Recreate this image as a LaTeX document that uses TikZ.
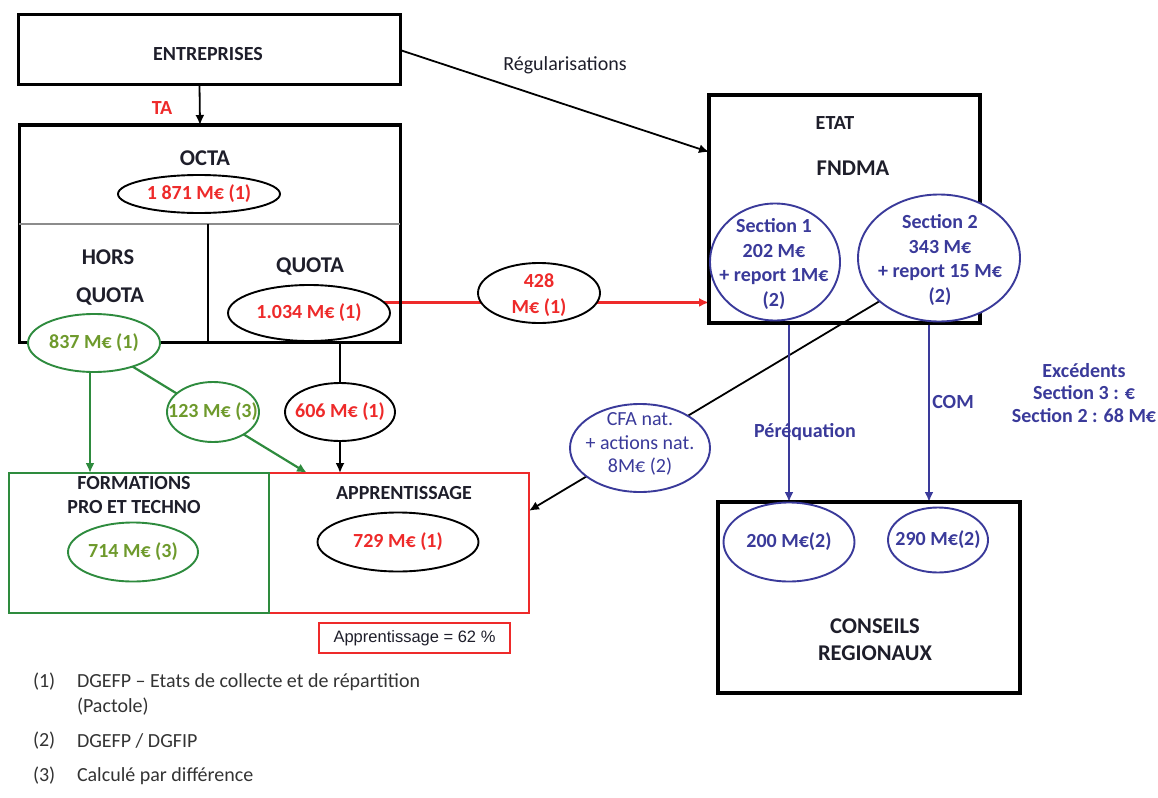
\documentclass[tikz,border=0pt]{standalone}
\usepackage{fontspec}
\setmainfont{Carlito}
\newfontfamily\arialf{Liberation Sans}
\usetikzlibrary{shapes.geometric,arrows.meta,backgrounds,calc}
\definecolor{myred}{HTML}{EE2A2A}
\definecolor{mygreen}{HTML}{2E8B3E}
\definecolor{gtext}{HTML}{6E9A2C}
\definecolor{myblue}{HTML}{3A3A9A}
\definecolor{ink}{HTML}{1E1E2A}
\definecolor{fn}{HTML}{333333}
\newcommand{\zb}[1]{\makebox[0pt]{#1}}
\begin{document}
\begin{tikzpicture}[x=1pt,y=-1pt,
  every node/.style={inner sep=0pt, outer sep=0pt},
  txt/.style={font=\fontsize{20}{24.4}\selectfont\bfseries, text=ink, align=center},
  big/.style={font=\fontsize{22.5}{27}\selectfont\bfseries, text=ink, align=center},
  reg/.style={font=\fontsize{20}{24.4}\selectfont, text=ink, align=center},
  box/.style={draw=black, line width=3pt, rectangle},
  ell/.style={ellipse, draw=black, line width=1.9pt, fill=white},
  arr/.style={-{Latex[length=10pt,width=9pt]}, line width=1.8pt},
]
\useasboundingbox (0,0) rectangle (1158,797);

% ENTREPRISES
\node[box, minimum width=382pt, minimum height=70pt] (ent) at (209,50) {};
\node[txt] (enttxt) at (208,54) {ENTREPRISES};
\node[txt, text=myred] (ta) at (162,108) {TA};

% OCTA
\node[box, minimum width=381pt, minimum height=217pt] (octa) at (209.5,233.5) {};
\draw[line width=2.8pt, black!45] (19,224) -- (400,224);
\draw[line width=2.8pt] (208,224) -- (208,342);
\node[big] (octatxt) at (205,158) {OCTA};
\node[ell, minimum width=162pt, minimum height=38pt, txt, text=myred] (e1871) at (199,194) {\zb{1 871 M€ (1)}};
\node[big] (hors) at (108,257) {HORS};
\node[big] (horsq) at (110,297) {QUOTA};
\node[big] (quota) at (310,267) {QUOTA};
\node[ell, minimum width=162pt, minimum height=56pt, txt, text=myred] (e1034) at (309,313) {\zb{1.034 M€ (1)}};
\node[ell, draw=mygreen, minimum width=132pt, minimum height=58pt, txt, text=gtext] (e837) at (94,343) {\zb{837 M€ (1)}};

% middle ellipses
\node[ell, draw=mygreen, minimum width=92pt, minimum height=60pt, txt, text=gtext] (e123) at (213,412) {\zb{123 M€ (3)}};
\node[ell, minimum width=110pt, minimum height=58pt, txt, text=myred] (e606) at (340,412) {\zb{606 M€ (1)}};

% bottom boxes
\node[box, draw=myred, line width=2.6pt, minimum width=260pt, minimum height=140pt] (appr) at (399,543) {};
\node[box, draw=mygreen, line width=2.6pt, minimum width=260pt, minimum height=140pt] (form) at (139,543) {};
\node[txt] (formtxt) at (134,483) {FORMATIONS};
\node[txt] (protxt) at (134,507) {PRO ET TECHNO};
\node[ell, draw=mygreen, minimum width=130pt, minimum height=59pt, txt, text=gtext] (e714) at (133,552) {\zb{714 M€ (3)}};
\node[txt] (apprtxt) at (404,493) {APPRENTISSAGE};
\node[ell, minimum width=161pt, minimum height=59pt, txt, text=myred] (e729) at (398,542) {\zb{729 M€ (1)}};
\node[draw=myred, line width=2.6pt, minimum width=191pt, minimum height=30pt, font=\arialf\fontsize{16.5}{19}\selectfont, text=ink] (pct) at (414.5,638) {Apprentissage = 62 \%};

% 428
\node[ell, minimum width=122pt, minimum height=60pt] (e428) at (539,293) {};
\node[txt, text=myred] (e428t) at (539,295) {428\\[1.5pt]M€ (1)};

% ETAT
\node[box, line width=3.2pt, minimum width=271pt, minimum height=228pt] (etat) at (844.5,209) {};
\node[txt] (etattxt) at (835,123) {ETAT};
\node[big] (fndma) at (853,168) {FNDMA};
\node[ell, draw=myblue, minimum width=130pt, minimum height=117pt] (sec1) at (775,262) {};
\node[txt, text=myblue] (sec1t) at (774,264) {Section 1\\202 M€\\+ report 1M€\\(2)};
\node[ell, draw=myblue, minimum width=162pt, minimum height=127pt] (sec2) at (939,258) {};
\node[txt, text=myblue] (sec2t) at (940,260) {Section 2\\343 M€\\+ report 15 M€\\(2)};

% CFA
\node[ell, draw=myblue, minimum width=140pt, minimum height=88pt] (cfa) at (640,448) {};
\node[reg, text=myblue, font=\fontsize{20}{23.5}\selectfont] (cfat) at (640,444) {CFA nat.\\+ actions nat.\\8M€ (2)};

% CONSEILS
\node[box, line width=3.2pt, minimum width=302pt, minimum height=191pt] (conseils) at (869,597.5) {};
\node[big] (constxt) at (875,640) {CONSEILS\\REGIONAUX};
\node[ell, draw=myblue, minimum width=131pt, minimum height=79pt, txt, text=myblue] (e200) at (789,542) {\zb{200 M€(2)}};
\node[ell, draw=myblue, minimum width=100pt, minimum height=65pt, txt, text=myblue] (e290) at (938,540) {\zb{290 M€(2)}};

% labels
\node[reg] (regul) at (565,65) {Régularisations};
\node[txt, text=myblue] (pereq) at (805,432) {Péréquation};
\node[txt, text=myblue] (com) at (953,402) {COM};
\node[txt, text=myblue, font=\fontsize{20}{22.5}\selectfont\bfseries] (exc) at (1084,393) {Excédents\\Section 3 : €\\Section 2 : 68 M€};

% footnotes
\node[reg, text=fn, anchor=west] (n1) at (33,682) {(1)};
\node[reg, text=fn, anchor=west, align=left] (f1) at (77,694.5) {DGEFP – Etats de collecte et de répartition\\(Pactole)};
\node[reg, text=fn, anchor=west] (n2) at (33,741) {(2)};
\node[reg, text=fn, anchor=west] (f2) at (77,741) {DGEFP / DGFIP};
\node[reg, text=fn, anchor=west] (n3) at (33,776) {(3)};
\node[reg, text=fn, anchor=west] (f3) at (77,776) {Calculé par différence};

% connectors
\begin{scope}[on background layer]
  \draw[arr] ([xshift=-9.5pt]ent.south) -- ([xshift=-9.5pt]octa.north);
  \draw[arr] (ent.east) -- ([yshift=57pt]etat.west);
  \draw[arr, myred, line width=2.2pt] (e1034.8) -- (e1034.8 -| etat.west);
  \draw[arr, mygreen, line width=2.2pt] ([xshift=-4pt]e837.south) -- ([xshift=-4pt]e837.south |- form.north);
  \draw[arr, mygreen, line width=2.2pt] (e837) -- ($(appr.north west)!0.146!(appr.north east)$);
  \draw[arr] (octa.south -| e606) -- (appr.north -| e606);
  \draw[arr] (sec2.216) -- ($(appr.north east)!0.27!(appr.south east)$);
  \draw[arr, myblue, line width=2.6pt] (sec1.south -| e200) -- (conseils.north -| e200);
  \draw[arr, myblue, line width=2.6pt] ([xshift=-10pt]sec2.south) -- ([xshift=-10pt]sec2.south |- conseils.north);
\end{scope}
\end{tikzpicture}
\end{document}
